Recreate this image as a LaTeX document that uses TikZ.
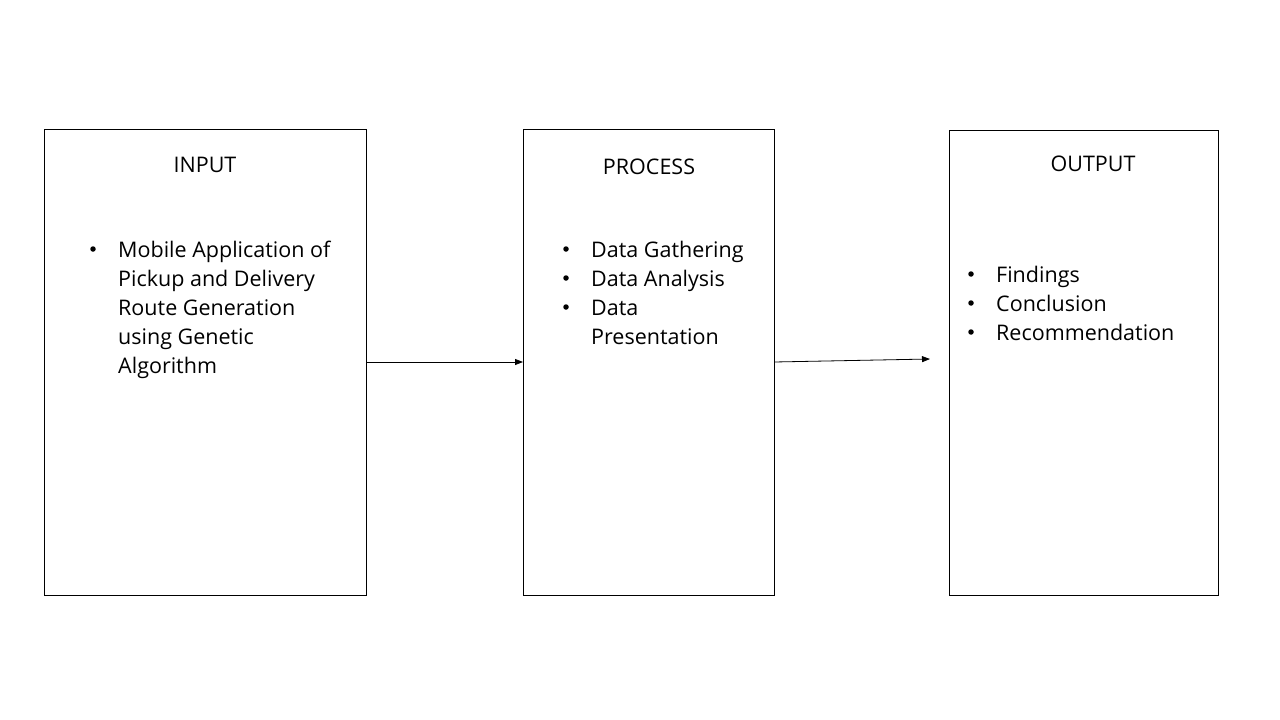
\documentclass[tikz,border=0pt]{standalone}
\usepackage{fontspec}
\setmainfont{Open Sans}
\usetikzlibrary{arrows.meta}
\begin{document}
\begin{tikzpicture}[x=1pt,y=-1pt,
  box/.style={draw=black,line width=0.9pt},
  title/.style={font=\fontsize{21.5}{25}\selectfont,inner sep=0pt},
  items/.style={font=\fontsize{21.5}{29}\selectfont,align=left,anchor=north west,inner sep=0pt},
  bul/.style={circle,fill=black,inner sep=0pt,minimum size=5.5pt},
  conn/.style={line width=0.8pt,-{Triangle[length=8pt,width=6pt]}}]
\useasboundingbox (0,0) rectangle (1280,720);
\fill[white] (0,0) rectangle (1280,720);
% boxes
\draw[box] (44,129) rectangle (366,595);
\draw[box] (523,129) rectangle (774,595);
\draw[box] (949,130) rectangle (1218,595);
\coordinate (inR) at (366,362);
\coordinate (prL) at (523,362);
\coordinate (prR) at (774,362);
\coordinate (outL) at (930,359);
% titles
\node[title] (tin) at (205,165) {INPUT};
\node[title] (tpr) at (649,167) {PROCESS};
\node[title] (tout) at (1093,164) {OUTPUT};
% input list
\node[items] (lin) at (118,241) {Mobile Application of\\Pickup and Delivery\\Route Generation\\using Genetic\\Algorithm};
\node[bul] (bin1) at (93,249) {};
% process list
\node[items] (lpr) at (591,241) {Data Gathering\\Data Analysis\\Data\\Presentation};
\node[bul] (bpr1) at (566,249) {};
\node[bul] (bpr2) at (566,278) {};
\node[bul] (bpr3) at (566,307) {};
% output list
\node[items] (lout) at (996,266) {Findings\\Conclusion\\Recommendation};
\node[bul] (bout1) at (971,274) {};
\node[bul] (bout2) at (971,303) {};
\node[bul] (bout3) at (971,332) {};
% arrows
\draw[conn] (inR) -- (prL);
\draw[conn] (prR) -- (outL);
\end{tikzpicture}
\end{document}
